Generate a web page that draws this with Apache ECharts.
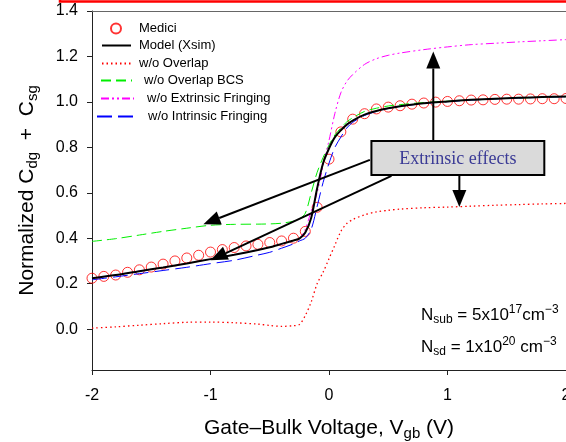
<!DOCTYPE html>
<html>
<head>
<meta charset="utf-8">
<title>Normalized Cdg + Csg</title>
<script src="https://cdn.jsdelivr.net/npm/echarts@6/dist/echarts.min.js"></script>
</head>
<body style="margin:0;background:#fff">
<div id="main" style="width:566px;height:442px;"></div>
<script>
// gate-bulk voltage grid used by the simulated curves
var volts = [-2, -1.8, -1.6, -1.4, -1.2, -1.0, -0.8, -0.6, -0.5, -0.4, -0.3, -0.25, -0.2, -0.15, -0.1, -0.05,
  0, 0.05, 0.1, 0.15, 0.2, 0.3, 0.4, 0.5, 0.6, 0.8, 1.0, 1.2, 1.4, 1.6, 1.8, 2.0];

var modelXsim = [0.224, 0.238, 0.255, 0.271, 0.289, 0.308, 0.327, 0.348, 0.360, 0.375, 0.390, 0.398, 0.425, 0.49, 0.62, 0.73,
  0.795, 0.845, 0.875, 0.90, 0.918, 0.944, 0.960, 0.972, 0.981, 0.994, 1.002, 1.009, 1.014, 1.018, 1.021, 1.024];
var noOverlap = [0.004, 0.010, 0.017, 0.024, 0.030, 0.031, 0.028, 0.022, 0.016, 0.012, 0.015, 0.020, 0.06, 0.12, 0.20, 0.25,
  0.31, 0.37, 0.43, 0.465, 0.482, 0.503, 0.516, 0.523, 0.528, 0.534, 0.537, 0.541, 0.545, 0.548, 0.551, 0.553];
var noOverlapBCS = [0.386, 0.398, 0.414, 0.430, 0.444, 0.457, 0.461, 0.462, 0.463, 0.466, 0.475, 0.485, 0.51, 0.60, 0.69, 0.755,
  0.81, 0.855, 0.885, 0.912, 0.93, 0.958, 0.972, 0.982, 0.988, 0.997, 1.003, 1.008, 1.013, 1.017, 1.020, 1.023];
var noExtrinsic = [0.224, 0.238, 0.255, 0.271, 0.289, 0.308, 0.327, 0.348, 0.360, 0.375, 0.390, 0.398, 0.44, 0.52, 0.60, 0.72,
  0.83, 0.95, 1.04, 1.09, 1.12, 1.165, 1.19, 1.205, 1.215, 1.23, 1.242, 1.252, 1.258, 1.264, 1.269, 1.274];
var noIntrinsic = [0.217, 0.230, 0.244, 0.258, 0.272, 0.288, 0.303, 0.326, 0.338, 0.356, 0.375, 0.388, 0.40, 0.44, 0.54, 0.645,
  0.73, 0.80, 0.845, 0.885, 0.91, 0.94, 0.958, 0.971, 0.980, 0.993, 1.001, 1.008, 1.013, 1.017, 1.020, 1.023];

// Medici points, every 0.1 V
var mediciV = [-2.0, -1.9, -1.8, -1.7, -1.6, -1.5, -1.4, -1.3, -1.2, -1.1, -1.0, -0.9, -0.8, -0.7, -0.6, -0.5, -0.4, -0.3, -0.2, -0.1,
  0.0, 0.1, 0.2, 0.3, 0.4, 0.5, 0.6, 0.7, 0.8, 0.9, 1.0, 1.1, 1.2, 1.3, 1.4, 1.5, 1.6, 1.7, 1.8, 1.9, 2.0];
var mediciC = [0.224, 0.232, 0.238, 0.250, 0.261, 0.273, 0.286, 0.300, 0.313, 0.325, 0.339, 0.350, 0.359, 0.366, 0.373, 0.381, 0.388, 0.400, 0.430, 0.536,
  0.748, 0.868, 0.924, 0.948, 0.969, 0.977, 0.983, 0.990, 0.995, 0.999, 1.002, 1.005, 1.008, 1.009, 1.011, 1.012, 1.012, 1.013, 1.014, 1.014, 1.015];

var yTicks = [0.0, 0.2, 0.4, 0.6, 0.8, 1.0, 1.2, 1.4];

// annotation geometry, in data coordinates
var boxCorners = [[0.358, 0.828], [1.817, 0.678]];
var arrows = [
  {from: [0.88, 0.828], to: [0.88, 1.222]},
  {from: [1.10, 0.678], to: [1.10, 0.537]},
  {from: [0.345, 0.745], to: [-1.06, 0.462]},
  {from: [0.527, 0.674], to: [-1.00, 0.303]}
];

var FONT = "'Liberation Sans', Arial, sans-serif";

function pairs(xs, ys) {
  return xs.map(function (x, i) { return [x, ys[i]]; });
}

function lineSeries(name, ys, color, width, dash, z) {
  return {
    name: name, type: 'line', data: pairs(volts, ys),
    symbol: 'none', smooth: 0.3, z: z,
    lineStyle: {color: color, width: width, type: dash},
    itemStyle: {color: color}
  };
}

var legendSpots = [
  {name: 'Medici', left: 110, y: 29, w: 10, pad: 13},
  {name: 'Model (Xsim)', left: 101, y: 46, w: 29, pad: 3},
  {name: 'w/o Overlap', left: 101, y: 64, w: 30, pad: 2},
  {name: 'w/o Overlap BCS', left: 100, y: 81, w: 31, pad: 7},
  {name: 'w/o Extrinsic Fringing', left: 100, y: 99, w: 33, pad: 8},
  {name: 'w/o Intrinsic Fringing', left: 96, y: 117, w: 41, pad: 5}
];

var titleRich = {
  a: {fontFamily: FONT, fontSize: 21, color: '#000', lineHeight: 26},
  s: {fontFamily: FONT, fontSize: 15, color: '#000', lineHeight: 12, verticalAlign: 'bottom'}
};

var chart = echarts.init(document.getElementById('main'));

var option = {
  animation: false,
  backgroundColor: '#fff',
  textStyle: {fontFamily: FONT},
  grid: {left: 92, right: 0, top: 11, bottom: 72, outerBoundsMode: 'none', containLabel: false},
  legend: legendSpots.map(function (s, i) {
    var lg = {
      data: [s.name], left: s.left, top: s.y - 7, padding: 0,
      itemWidth: s.w, itemHeight: 10, selectedMode: false,
      textStyle: {fontFamily: FONT, fontSize: 13, color: '#000', padding: [0, 0, 0, s.pad]}
    };
    if (i > 0) lg.itemStyle = {opacity: 0};   // line only, no marker dot
    return lg;
  }),
  xAxis: [{
    type: 'value', min: -2, max: 2, interval: 1,
    name: '{a|Gate\u2013Bulk Voltage, V}{s|gb}{a| (V)}',
    nameLocation: 'middle', nameGap: 45,
    nameTextStyle: {rich: titleRich},
    axisLine: {onZero: false, lineStyle: {color: '#222', width: 1}},
    axisTick: {length: 5, lineStyle: {color: '#222'}},
    axisLabel: {fontFamily: FONT, fontSize: 16, color: '#000', margin: 18},
    splitLine: {show: false}
  }, {
    type: 'value', position: 'top', min: -2, max: 2,
    axisLine: {onZero: false, lineStyle: {color: '#666', width: 1}},
    axisTick: {show: false}, axisLabel: {show: false}, splitLine: {show: false}
  }],
  yAxis: {
    type: 'value', min: -0.18, max: 1.4,
    name: '{a|Normalized C}{s|dg}{a|  +  C}{s|sg}',
    nameLocation: 'middle', nameGap: 52,
    nameTextStyle: {rich: titleRich},
    axisLine: {show: true, onZero: false, lineStyle: {color: '#222', width: 1}},
    axisTick: {show: true, length: 5, lineStyle: {color: '#222'}, customValues: yTicks},
    axisLabel: {fontFamily: FONT, fontSize: 16, color: '#000', margin: 14, customValues: yTicks,
      formatter: function (v) { return v.toFixed(1); }},
    splitLine: {show: false}
  },
  series: [
    {
      name: 'Medici', type: 'scatter', data: pairs(mediciV, mediciC), z: 2,
      symbol: 'circle', symbolSize: 10,
      itemStyle: {color: 'rgba(255,255,255,0)', borderColor: '#ff0000', borderWidth: 1}
    },
    lineSeries('w/o Overlap', noOverlap, '#ff0000', 1.3, [1.5, 3], 3),
    lineSeries('w/o Overlap BCS', noOverlapBCS, '#00ee00', 1, [10, 5], 3),
    lineSeries('w/o Extrinsic Fringing', noExtrinsic, '#ff00ff', 1, [8, 3, 2, 3, 2, 3], 3),
    lineSeries('w/o Intrinsic Fringing', noIntrinsic, '#0000ff', 1, [15, 6], 3),
    lineSeries('Model (Xsim)', modelXsim, '#000000', 2, 'solid', 5)
  ]
};

chart.setOption(option);

function px(p) {
  return chart.convertToPixel({xAxisIndex: 0, yAxisIndex: 0}, p);
}

function arrowEls(a) {
  var p0 = px(a.from), p1 = px(a.to);
  var dx = p1[0] - p0[0], dy = p1[1] - p0[1];
  var L = Math.sqrt(dx * dx + dy * dy);
  var ux = dx / L, uy = dy / L;
  var hl = 17, hw = 7;
  var bx = p1[0] - ux * hl, by = p1[1] - uy * hl;
  return [{
    type: 'line', z: 20,
    shape: {x1: p0[0], y1: p0[1], x2: bx, y2: by},
    style: {stroke: '#000', lineWidth: 2}
  }, {
    type: 'polygon', z: 20,
    shape: {points: [[p1[0], p1[1]], [bx - uy * hw, by + ux * hw], [bx + uy * hw, by - ux * hw]]},
    style: {fill: '#000'}
  }];
}

var g = [];
// red frame corner from the surrounding page
g.push({type: 'polyline', z: 30, shape: {points: [[60, 0], [60, 1.5], [566, 1.5]]},
  style: {stroke: '#ff0000', lineWidth: 2.5, fill: null}});

arrows.forEach(function (a) { g = g.concat(arrowEls(a)); });

var b0 = px(boxCorners[0]), b1 = px(boxCorners[1]);
g.push({
  type: 'rect', z: 21,
  shape: {x: b0[0], y: b0[1], width: b1[0] - b0[0], height: b1[1] - b0[1]},
  style: {fill: '#dadada', stroke: '#000', lineWidth: 2}
});
g.push({
  type: 'text', z: 22, x: (b0[0] + b1[0]) / 2, y: (b0[1] + b1[1]) / 2 + 1,
  style: {text: 'Extrinsic effects', fill: '#3b3b96', align: 'center', verticalAlign: 'middle',
    font: "18px 'Liberation Serif', 'Times New Roman', serif"}
});

var noteRich = {
  n: {fontFamily: FONT, fontSize: 17, color: '#000', lineHeight: 22},
  sub: {fontFamily: FONT, fontSize: 12, color: '#000', lineHeight: 10, verticalAlign: 'bottom'},
  sup: {fontFamily: FONT, fontSize: 12, color: '#000', lineHeight: 10, verticalAlign: 'top'}
};
g.push({type: 'text', z: 22, x: 421, y: 304,
  style: {text: '{n|N}{sub|sub}{n| = 5x10}{sup|17}{n|cm}{sup|\u22123}', rich: noteRich}});
g.push({type: 'text', z: 22, x: 421, y: 336,
  style: {text: '{n|N}{sub|sd}{n| = 1x10}{sup|20}{n| cm}{sup|\u22123}', rich: noteRich}});

chart.setOption({graphic: g});
</script>
</body>
</html>
